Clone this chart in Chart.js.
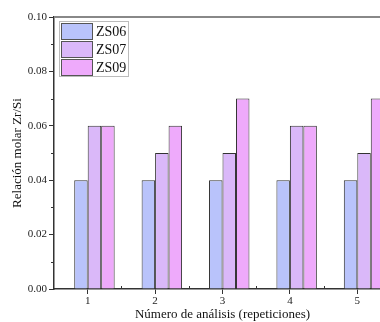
<!DOCTYPE html>
<html>
<head>
<meta charset="utf-8">
<script src="https://cdn.jsdelivr.net/npm/chart.js@4"></script>
<style>
  html, body { margin: 0; padding: 0; background: #fff; overflow: hidden; }
  #wrap { width: 391px; height: 322px; }
</style>
</head>
<body>
<div id="wrap"><canvas id="grafico"></canvas></div>
<script>
const repeticiones = ['1', '2', '3', '4', '5'];
const zs06 = [0.04, 0.04, 0.04, 0.04, 0.04];
const zs07 = [0.06, 0.05, 0.05, 0.06, 0.05];
const zs09 = [0.06, 0.06, 0.07, 0.06, 0.07];
const nombres = ['ZS06', 'ZS07', 'ZS09'];
const colores = ['#b9c3fb', '#dab8f9', '#eeaafb'];
// hueco vacio para que el tick quede entre la primera y la segunda barra (como en Origin)
const vacio = repeticiones.map(() => null);

const fuente = 'Liberation Serif';

// leyenda dentro del area y marco superior
const extras = {
  id: 'extras',
  afterDraw(chart) {
    const ctx = chart.ctx;
    const area = chart.chartArea;
    ctx.save();
    ctx.strokeStyle = '#888';
    ctx.lineWidth = 2;
    ctx.beginPath();
    ctx.moveTo(area.left, area.top);
    ctx.lineTo(area.right, area.top);
    ctx.stroke();

    // ticks menores
    const y = chart.scales.y;
    ctx.strokeStyle = '#333';
    ctx.lineWidth = 1;
    for (let v = 0.01; v < 0.1; v += 0.02) {
      const py = Math.round(y.getPixelForValue(v)) + 0.5;
      ctx.beginPath();
      ctx.moveTo(area.left - 3, py);
      ctx.lineTo(area.left, py);
      ctx.stroke();
    }
    const x = chart.scales.x;
    for (let i = 0; i < repeticiones.length - 1; i++) {
      const px = Math.round((x.getPixelForValue(i) + x.getPixelForValue(i + 1)) / 2) + 0.5;
      ctx.beginPath();
      ctx.moveTo(px, area.bottom);
      ctx.lineTo(px, area.bottom - 3);
      ctx.stroke();
    }

    // leyenda
    const lx = area.left + 5, ly = area.top + 4;
    ctx.strokeStyle = '#bbb';
    ctx.strokeRect(lx + 0.5, ly + 0.5, 69, 55);
    ctx.font = '14px "' + fuente + '"';
    ctx.textBaseline = 'middle';
    nombres.forEach((n, i) => {
      const sy = ly + 2 + i * 18;
      ctx.fillStyle = colores[i];
      ctx.fillRect(lx + 2, sy, 31, 16);
      ctx.strokeStyle = '#555';
      ctx.strokeRect(lx + 2.5, sy + 0.5, 31, 16);
      ctx.fillStyle = '#111';
      ctx.fillText(n, lx + 37, sy + 9);
    });
    ctx.restore();
  }
};

new Chart(document.getElementById('grafico'), {
  type: 'bar',
  data: {
    labels: repeticiones,
    datasets: [
      { label: '', data: vacio, backgroundColor: 'rgba(0,0,0,0)' },
      { label: nombres[0], data: zs06, backgroundColor: colores[0] },
      { label: nombres[1], data: zs07, backgroundColor: colores[1] },
      { label: nombres[2], data: zs09, backgroundColor: colores[2] }
    ].map(d => Object.assign(d, { borderColor: '#333', borderWidth: 1, categoryPercentage: 0.8, barPercentage: 1 }))
  },
  options: {
    responsive: true,
    maintainAspectRatio: false,
    animation: false,
    layout: { padding: { top: 17, right: 0, left: 0, bottom: 0 } },
    plugins: { legend: { display: false }, tooltip: { enabled: false } },
    scales: {
      x: {
        grid: { offset: false, drawOnChartArea: false, tickLength: 5, color: '#333' },
        border: { color: '#333', width: 1.5 },
        ticks: { font: { family: fuente, size: 11 }, color: '#222', padding: 1 },
        title: { display: true, text: 'Número de análisis (repeticiones)', font: { family: fuente, size: 13 }, color: '#111', padding: { top: 0, bottom: 0 } },
        afterFit(s) { s.height = 33; }
      },
      y: {
        min: 0,
        max: 0.1,
        ticks: { stepSize: 0.02, font: { family: fuente, size: 11 }, color: '#222', padding: 2, callback: v => v.toFixed(2) },
        grid: { drawOnChartArea: false, tickLength: 5, color: '#333' },
        border: { color: '#333', width: 1.5 },
        title: { display: true, text: 'Relación molar Zr/Si', font: { family: fuente, size: 13 }, color: '#111', padding: { top: 10, bottom: 0 } },
        afterFit(s) { s.width = 54; }
      }
    }
  },
  plugins: [extras]
});
</script>
</body>
</html>
